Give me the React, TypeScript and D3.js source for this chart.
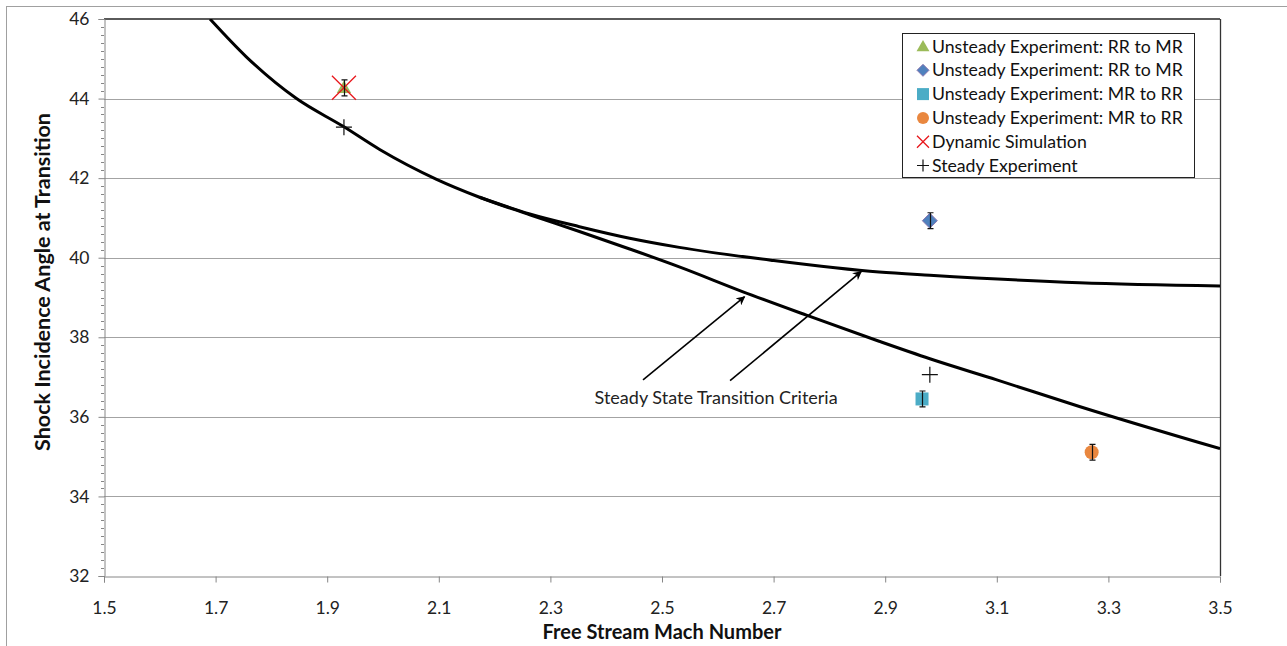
import React, { useEffect, useRef } from "react";
import * as d3 from "d3";

const W = 1287;
const H = 646;
const FONT = "Lato, 'Open Sans', sans-serif";

// axis ticks
const xTicks = [1.5, 1.7, 1.9, 2.1, 2.3, 2.5, 2.7, 2.9, 3.1, 3.3, 3.5];
const yTicks = [32, 34, 36, 38, 40, 42, 44, 46];

// steady state transition criteria
const lowerMach = [1.69, 1.755, 1.845, 1.93, 1.994, 2.096, 2.173, 2.263, 2.352, 2.442, 2.531, 2.644, 2.76, 2.889, 2.98, 3.1, 3.248, 3.5];
const lowerAngle = [46.0, 45.05, 44.0, 43.29, 42.72, 41.97, 41.52, 41.08, 40.66, 40.22, 39.77, 39.15, 38.55, 37.9, 37.46, 36.93, 36.26, 35.2];
const upperMach = [2.173, 2.263, 2.352, 2.442, 2.531, 2.7, 2.889, 2.98, 3.248, 3.5];
const upperAngle = [41.52, 41.1, 40.78, 40.49, 40.26, 39.93, 39.64, 39.56, 39.37, 39.29];

// experiment / simulation points
const triMach = [1.93];
const triAngle = [44.27];
const diaMach = [2.98];
const diaAngle = [40.93];
const sqMach = [2.966];
const sqAngle = [36.45];
const circMach = [3.27];
const circAngle = [35.11];
const errBar = 0.2;
const simMach = [1.93];
const simAngle = [44.27];
const steadyMach = [1.93, 2.98];
const steadyAngle = [43.28, 37.06];

const legendNames = [
    "Unsteady Experiment: RR to MR",
    "Unsteady Experiment: RR to MR",
    "Unsteady Experiment: MR to RR",
    "Unsteady Experiment: MR to RR",
    "Dynamic Simulation",
    "Steady Experiment",
];
const legendShapes = ["tri", "dia", "sq", "circ", "x", "plus"];

const colTri = "#9BBB59";
const colDia = "#4F81BD";
const colSq = "#4BACC6";
const colCirc = "#E9873F";
const colX = "#E8161B";

// annotation (data units)
const noteText = "Steady State Transition Criteria";
const notePos = [2.597, 36.47];
const arrowFrom = [[2.466, 36.93], [2.622, 36.91]];
const arrowTo = [[2.648, 39.02], [2.857, 39.65]];

const drawMarker = (g, shape, cx, cy, s) => {
    if (shape === "tri") {
        g.append("path")
            .attr("d", d3.symbol(d3.symbolTriangle, s.tri)())
            .attr("transform", `translate(${cx},${cy + 1})`)
            .attr("fill", colTri);
    } else if (shape === "dia") {
        const r = s.dia;
        g.append("path")
            .attr("d", `M${cx},${cy - r}L${cx + r},${cy}L${cx},${cy + r}L${cx - r},${cy}Z`)
            .attr("fill", colDia)
            .attr("stroke", "#8a76b0")
            .attr("stroke-width", 1);
    } else if (shape === "sq") {
        const r = s.sq;
        g.append("rect")
            .attr("x", cx - r)
            .attr("y", cy - r)
            .attr("width", r * 2)
            .attr("height", r * 2)
            .attr("fill", colSq);
    } else if (shape === "circ") {
        g.append("circle").attr("cx", cx).attr("cy", cy).attr("r", s.circ).attr("fill", colCirc);
    } else if (shape === "x") {
        const r = s.x;
        g.append("path")
            .attr("d", `M${cx - r},${cy - r}L${cx + r},${cy + r}M${cx - r},${cy + r}L${cx + r},${cy - r}`)
            .attr("stroke", colX)
            .attr("stroke-width", 1.3)
            .attr("fill", "none");
    } else {
        const r = s.plus;
        g.append("path")
            .attr("d", `M${cx - r},${cy}L${cx + r},${cy}M${cx},${cy - r}L${cx},${cy + r}`)
            .attr("stroke", "#111")
            .attr("stroke-width", 1.2)
            .attr("fill", "none");
    }
};

const Chart = () => {
    const ref = useRef(null);

    useEffect(() => {
        const svg = d3.select(ref.current);
        svg.selectAll("*").remove();

        const x = d3.scaleLinear().domain([1.5, 3.5]).range([104, 1220]);
        const y = d3.scaleLinear().domain([32, 46]).range([576, 19]);

        // outer chart frame (only left/top edges fall inside the picture)
        svg.append("rect")
            .attr("x", 6.5)
            .attr("y", 6.5)
            .attr("width", W + 10)
            .attr("height", H + 10)
            .attr("fill", "white")
            .attr("stroke", "#a0a0a0")
            .attr("stroke-width", 1);

        // gridlines
        svg.append("g")
            .selectAll("line")
            .data(yTicks.filter(d => d > 32 && d < 46))
            .enter()
            .append("line")
            .attr("x1", x(1.5))
            .attr("x2", x(3.5))
            .attr("y1", d => Math.round(y(d)) + 0.5)
            .attr("y2", d => Math.round(y(d)) + 0.5)
            .attr("stroke", "#a3a3a3")
            .attr("stroke-width", 1);

        // plot border top and right
        svg.append("line")
            .attr("x1", x(1.5)).attr("x2", x(3.5))
            .attr("y1", y(46)).attr("y2", y(46))
            .attr("stroke", "#5a5a5a").attr("stroke-width", 2);
        svg.append("line")
            .attr("x1", x(3.5) + 0.5).attr("x2", x(3.5) + 0.5)
            .attr("y1", y(46)).attr("y2", y(32))
            .attr("stroke", "#333").attr("stroke-width", 1.3);

        // y axis with minor ticks
        const yAxis = d3.axisLeft(y)
            .tickValues(yTicks)
            .tickSize(6)
            .tickPadding(9)
            .tickFormat(d3.format("d"));
        const ya = svg.append("g").attr("transform", `translate(${x(1.5) + 0.5},0)`).call(yAxis);
        ya.select(".domain").attr("stroke", "#868686");
        ya.selectAll(".tick line").attr("stroke", "#868686");
        ya.selectAll("text")
            .attr("font-family", FONT)
            .attr("font-size", 17.5)
            .attr("fill", "#222");
        const minor = d3.range(32.2, 46, 0.2).filter(v => Math.abs(v / 2 - Math.round(v / 2)) > 0.01);
        svg.append("g")
            .selectAll("line")
            .data(minor)
            .enter()
            .append("line")
            .attr("x1", x(1.5) - 3)
            .attr("x2", x(1.5))
            .attr("y1", d => Math.round(y(d)) + 0.5)
            .attr("y2", d => Math.round(y(d)) + 0.5)
            .attr("stroke", "#868686");

        // x axis
        const xAxis = d3.axisBottom(x)
            .tickValues(xTicks)
            .tickSize(6)
            .tickPadding(19)
            .tickFormat(d3.format(".1f"));
        const xa = svg.append("g").attr("transform", `translate(0,${y(32) + 0.5})`).call(xAxis);
        xa.select(".domain").attr("stroke", "#868686");
        xa.selectAll(".tick line").attr("stroke", "#868686");
        xa.selectAll("text")
            .attr("font-family", FONT)
            .attr("font-size", 17.5)
            .attr("fill", "#222");

        // axis titles
        svg.append("text")
            .attr("x", 662)
            .attr("y", 639)
            .attr("text-anchor", "middle")
            .attr("font-family", FONT)
            .attr("font-weight", "bold")
            .attr("font-size", 20)
            .attr("fill", "#111")
            .text("Free Stream Mach Number");
        svg.append("text")
            .attr("transform", "translate(50,282) rotate(-90)")
            .attr("text-anchor", "middle")
            .attr("font-family", FONT)
            .attr("font-weight", "bold")
            .attr("font-size", 21.5)
            .attr("fill", "#111")
            .text("Shock Incidence Angle at Transition");

        // curves
        const line = d3.line()
            .x(d => x(d[0]))
            .y(d => y(d[1]))
            .curve(d3.curveMonotoneX);
        const clip = svg.append("clipPath").attr("id", "plotclip");
        clip.append("rect").attr("x", x(1.5)).attr("y", y(46)).attr("width", x(3.5) - x(1.5)).attr("height", y(32) - y(46));
        const curves = svg.append("g").attr("clip-path", "url(#plotclip)");
        curves.append("path")
            .attr("d", line(upperMach.map((m, i) => [m, upperAngle[i]])))
            .attr("fill", "none").attr("stroke", "#000").attr("stroke-width", 3);
        curves.append("path")
            .attr("d", line(lowerMach.map((m, i) => [m, lowerAngle[i]])))
            .attr("fill", "none").attr("stroke", "#000").attr("stroke-width", 3);

        // error bars
        const errG = svg.append("g");
        const bars = [
            ...triMach.map((m, i) => [m, triAngle[i]]),
            ...diaMach.map((m, i) => [m, diaAngle[i]]),
            ...sqMach.map((m, i) => [m, sqAngle[i]]),
            ...circMach.map((m, i) => [m, circAngle[i]]),
        ];
        bars.forEach(([m, a]) => {
            const cx = Math.round(x(m)) + 0.5;
            errG.append("path")
                .attr("d", `M${cx},${y(a + errBar)}L${cx},${y(a - errBar)}M${cx - 3},${y(a + errBar)}L${cx + 3},${y(a + errBar)}M${cx - 3},${y(a - errBar)}L${cx + 3},${y(a - errBar)}`)
                .attr("stroke", "#111")
                .attr("stroke-width", 1.2)
                .attr("fill", "none");
        });

        // markers
        const plotSize = { tri: 90, dia: 7.5, sq: 6.5, circ: 7, x: 12, plus: 8 };
        const mk = svg.append("g");
        triMach.forEach((m, i) => drawMarker(mk, "tri", x(m), y(triAngle[i]), plotSize));
        diaMach.forEach((m, i) => drawMarker(mk, "dia", x(m), y(diaAngle[i]), plotSize));
        sqMach.forEach((m, i) => drawMarker(mk, "sq", x(m), y(sqAngle[i]), plotSize));
        circMach.forEach((m, i) => drawMarker(mk, "circ", x(m), y(circAngle[i]), plotSize));
        // error bars over the markers like the original
        errG.raise();
        simMach.forEach((m, i) => drawMarker(mk, "x", x(m), y(simAngle[i]), plotSize));
        steadyMach.forEach((m, i) => drawMarker(svg, "plus", x(m), y(steadyAngle[i]), plotSize));

        // annotation arrows
        const defs = svg.append("defs");
        defs.append("marker")
            .attr("id", "arr")
            .attr("viewBox", "0 0 10 10")
            .attr("refX", 9)
            .attr("refY", 5)
            .attr("markerWidth", 9)
            .attr("markerHeight", 9)
            .attr("markerUnits", "userSpaceOnUse")
            .attr("orient", "auto")
            .append("path")
            .attr("d", "M0,0L10,5L0,10L3,5Z")
            .attr("fill", "#000");
        arrowFrom.forEach((f, i) => {
            svg.append("line")
                .attr("x1", x(f[0])).attr("y1", y(f[1]))
                .attr("x2", x(arrowTo[i][0])).attr("y2", y(arrowTo[i][1]))
                .attr("stroke", "#000").attr("stroke-width", 1.6)
                .attr("marker-end", "url(#arr)");
        });
        svg.append("text")
            .attr("x", x(notePos[0]))
            .attr("y", y(notePos[1]))
            .attr("dy", "0.35em")
            .attr("text-anchor", "middle")
            .attr("font-family", FONT)
            .attr("font-size", 18)
            .attr("fill", "#222")
            .text(noteText);

        // legend
        const lg = svg.append("g");
        lg.append("rect")
            .attr("x", 902.5).attr("y", 33.5)
            .attr("width", 292).attr("height", 144)
            .attr("fill", "white")
            .attr("stroke", "#222").attr("stroke-width", 1);
        const legSize = { tri: 72, dia: 6, sq: 6, circ: 6, x: 6, plus: 6 };
        legendNames.forEach((name, i) => {
            const cy = 46.5 + i * 23.8;
            drawMarker(lg, legendShapes[i], 923, cy, legSize);
            lg.append("text")
                .attr("x", 932)
                .attr("y", cy)
                .attr("dy", "0.35em")
                .attr("font-family", FONT)
                .attr("font-size", 17.7)
                .attr("fill", "#111")
                .text(name);
        });
    }, []);

    return <svg ref={ref} width={W} height={H} style={{ position: "absolute", left: 0, top: 0 }} />;
};

export default function App() {
    return <Chart />;
}
